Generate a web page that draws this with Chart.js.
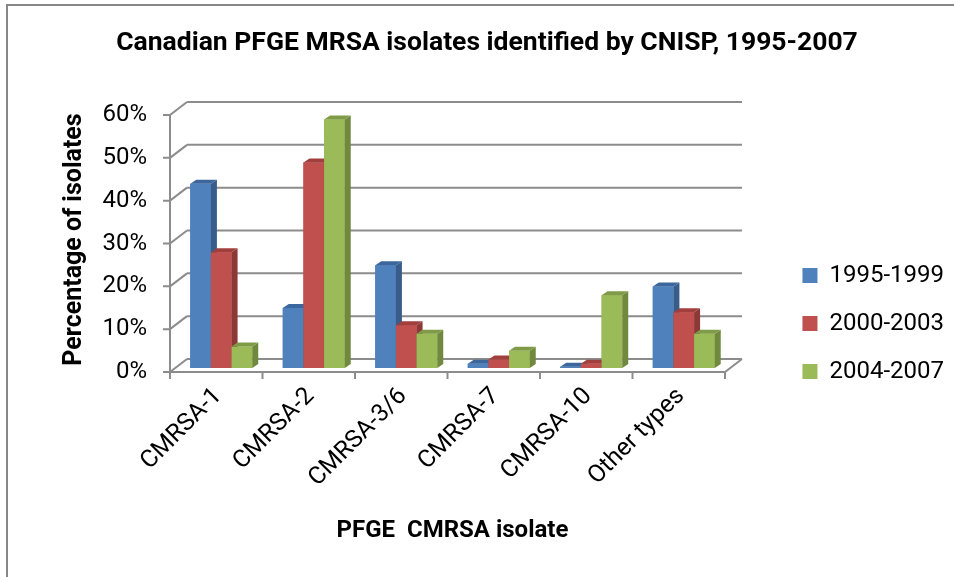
<!DOCTYPE html>
<html>
<head>
<meta charset="utf-8">
<script src="https://cdn.jsdelivr.net/npm/chart.js@4.4.0/dist/chart.umd.min.js"></script>
<style>
  html, body { margin: 0; padding: 0; background: #fff; }
  #wrap { width: 954px; height: 577px; }
</style>
</head>
<body>
<div id="wrap"><canvas id="BarChart" width="954" height="577"></canvas></div>
<script>
const categories = ["CMRSA-1", "CMRSA-2", "CMRSA-3/6", "CMRSA-7", "CMRSA-10", "Other types"];
const series1995 = [43, 14, 24, 1, 0.3, 19];
const series2000 = [27, 48, 10, 2, 1, 13];
const series2004 = [5, 58, 8, 4, 17, 8];
const seriesLabels = ["1995-1999", "2000-2003", "2004-2007"];
const yMax = 60;
const yStep = 10;

const frontColors = ["#4f81bd", "#c0504d", "#9bbb59"];
const sideColors = ["#385d8a", "#8c3836", "#71893f"];
const topColors = ["#3c679c", "#a03f3c", "#7f9b47"];

const gridColor = "#8c8c8c";
// offsets from the bar plane
const FRONT = { dx: -5, dy: 4 };
const BACK = { dx: 12, dy: -9 };
const DEPTH = { dx: 6, dy: -4 };

const fontFamily = "Roboto";
const legendFontSize = 24;

// legend sizing, so the plot ends at x=730 and legend boxes start at x=804
function textWidth(str, font) {
  const c = document.createElement("canvas").getContext("2d");
  c.font = font;
  return c.measureText(str).width;
}
const legendTextW = Math.max(...seriesLabels.map(s => textWidth(s, legendFontSize + "px " + fontFamily)));
const legendW = 24 + 15 + legendFontSize / 2 + legendTextW + 10;
let gapW = 50;
let padRight = 954 - 730 - gapW - legendW;
if (padRight < 0) { gapW += padRight; padRight = 0; }
const padLeft = 20 + padRight;

const excel3d = {
  id: "excel3d",
  beforeDraw(chart) {
    const ctx = chart.ctx;
    ctx.save();
    ctx.fillStyle = "#fff";
    ctx.fillRect(0, 0, chart.width, chart.height);
    ctx.strokeStyle = "#878787";
    ctx.lineWidth = 2;
    ctx.beginPath();
    ctx.moveTo(7, chart.height);
    ctx.lineTo(7, 5);
    ctx.lineTo(chart.width, 5);
    ctx.stroke();
    ctx.restore();
  },
  beforeDatasetsDraw(chart) {
    const ctx = chart.ctx;
    const y = chart.scales.y;
    const left = chart.chartArea.left;
    const right = chart.chartArea.right;
    ctx.save();
    ctx.strokeStyle = gridColor;
    ctx.lineWidth = 2;
    ctx.beginPath();
    for (let v = 0; v <= yMax; v += yStep) {
      const py = y.getPixelForValue(v);
      // back wall
      ctx.moveTo(left + BACK.dx, py + BACK.dy);
      ctx.lineTo(right + BACK.dx, py + BACK.dy);
      // side wall
      ctx.moveTo(left + FRONT.dx, py + FRONT.dy);
      ctx.lineTo(left + BACK.dx, py + BACK.dy);
      // tick
      ctx.moveTo(left + FRONT.dx - 7, py + FRONT.dy);
      ctx.lineTo(left + FRONT.dx, py + FRONT.dy);
    }
    // front axis line
    const p0 = y.getPixelForValue(0);
    const pTop = y.getPixelForValue(yMax);
    ctx.moveTo(left + FRONT.dx, pTop + FRONT.dy);
    ctx.lineTo(left + FRONT.dx, p0 + FRONT.dy);
    // floor front edge and right edge
    ctx.lineTo(right + FRONT.dx, p0 + FRONT.dy);
    ctx.lineTo(right + BACK.dx, p0 + BACK.dy);
    // category ticks
    const n = categories.length;
    const cw = (right - left) / n;
    for (let i = 0; i <= n; i++) {
      const px = left + i * cw + FRONT.dx;
      ctx.moveTo(px, p0 + FRONT.dy);
      ctx.lineTo(px, p0 + FRONT.dy + 7);
    }
    ctx.stroke();
    ctx.restore();
  },
  afterDatasetsDraw(chart) {
    const ctx = chart.ctx;
    ctx.save();
    for (let i = 0; i < categories.length; i++) {
      for (let d = 0; d < chart.data.datasets.length; d++) {
        const bar = chart.getDatasetMeta(d).data[i];
        const l = bar.x - bar.width / 2;
        const r = bar.x + bar.width / 2;
        const t = bar.y;
        const b = bar.base;
        ctx.fillStyle = frontColors[d];
        ctx.fillRect(l, t, r - l, b - t);
        ctx.fillStyle = sideColors[d];
        ctx.beginPath();
        ctx.moveTo(r, t);
        ctx.lineTo(r + DEPTH.dx, t + DEPTH.dy);
        ctx.lineTo(r + DEPTH.dx, b + DEPTH.dy);
        ctx.lineTo(r, b);
        ctx.closePath();
        ctx.fill();
        ctx.fillStyle = topColors[d];
        ctx.beginPath();
        ctx.moveTo(l, t);
        ctx.lineTo(r, t);
        ctx.lineTo(r + DEPTH.dx, t + DEPTH.dy);
        ctx.lineTo(l + DEPTH.dx, t + DEPTH.dy);
        ctx.closePath();
        ctx.fill();
      }
    }
    ctx.restore();
  }
};

const dataBar = {
  labels: categories,
  datasets: [
    { label: seriesLabels[0], data: series1995, backgroundColor: frontColors[0] },
    { label: seriesLabels[1], data: series2000, backgroundColor: frontColors[1] },
    { label: seriesLabels[2], data: series2004, backgroundColor: frontColors[2] },
  ],
};

const configBar = {
  type: "bar",
  data: dataBar,
  plugins: [excel3d],
  options: {
    responsive: false,
    animation: false,
    layout: { padding: { left: padLeft, right: padRight, top: 0, bottom: 0 } },
    datasets: {
      bar: { barPercentage: 1, categoryPercentage: 0.67, borderWidth: 0 },
    },
    plugins: {
      title: {
        display: true,
        text: "Canadian PFGE MRSA isolates identified by CNISP, 1995-2007",
        color: "#000",
        font: { family: fontFamily, size: 26.5, weight: "bold", lineHeight: 1.2 },
        padding: { top: 27.6, bottom: 51.6 },
      },
      legend: {
        display: true,
        position: "right",
        maxWidth: 400,
        title: { display: true, text: "", font: { size: 10, lineHeight: 1 }, padding: { top: 60, bottom: 0 } },
        labels: {
          color: "#000",
          font: { family: fontFamily, size: legendFontSize },
          boxWidth: 15,
          boxHeight: 15,
          padding: 24,
        },
      },
      tooltip: { enabled: false },
    },
    scales: {
      x: {
        grid: { display: false, drawTicks: false },
        border: { display: false },
        ticks: {
          color: "#000",
          font: { family: fontFamily, size: 24.5 },
          minRotation: 45,
          maxRotation: 45,
          padding: 14,
          labelOffset: -3,
        },
        title: {
          display: true,
          text: "PFGE  CMRSA isolate",
          color: "#000",
          font: { family: fontFamily, size: 24, weight: "bold", lineHeight: 1.2 },
          padding: { top: 0, bottom: 32 },
        },
        afterFit(scale) { scale.height = 209; },
      },
      y: {
        min: 0,
        max: yMax,
        grid: { display: false, drawTicks: false },
        border: { display: false },
        ticks: {
          stepSize: yStep,
          color: "#000",
          font: { family: fontFamily, size: 24 },
          padding: 28,
          labelOffset: 4,
          callback: (v) => v + "%",
        },
        title: {
          display: true,
          text: "Percentage of isolates",
          color: "#000",
          font: { family: fontFamily, size: 25, weight: "bold", lineHeight: 1.2 },
          padding: { top: 75 - 15 - padLeft, bottom: 0 },
        },
        afterFit(scale) { scale.width = 175 - padLeft; },
      },
      yR: {
        position: "right",
        display: true,
        grid: { display: false, drawTicks: false },
        border: { display: false },
        ticks: { display: false },
        afterFit(scale) { scale.width = gapW; },
      },
    },
  },
};

const myBarChart = new Chart(document.getElementById("BarChart").getContext("2d"), configBar);
</script>
</body>
</html>
